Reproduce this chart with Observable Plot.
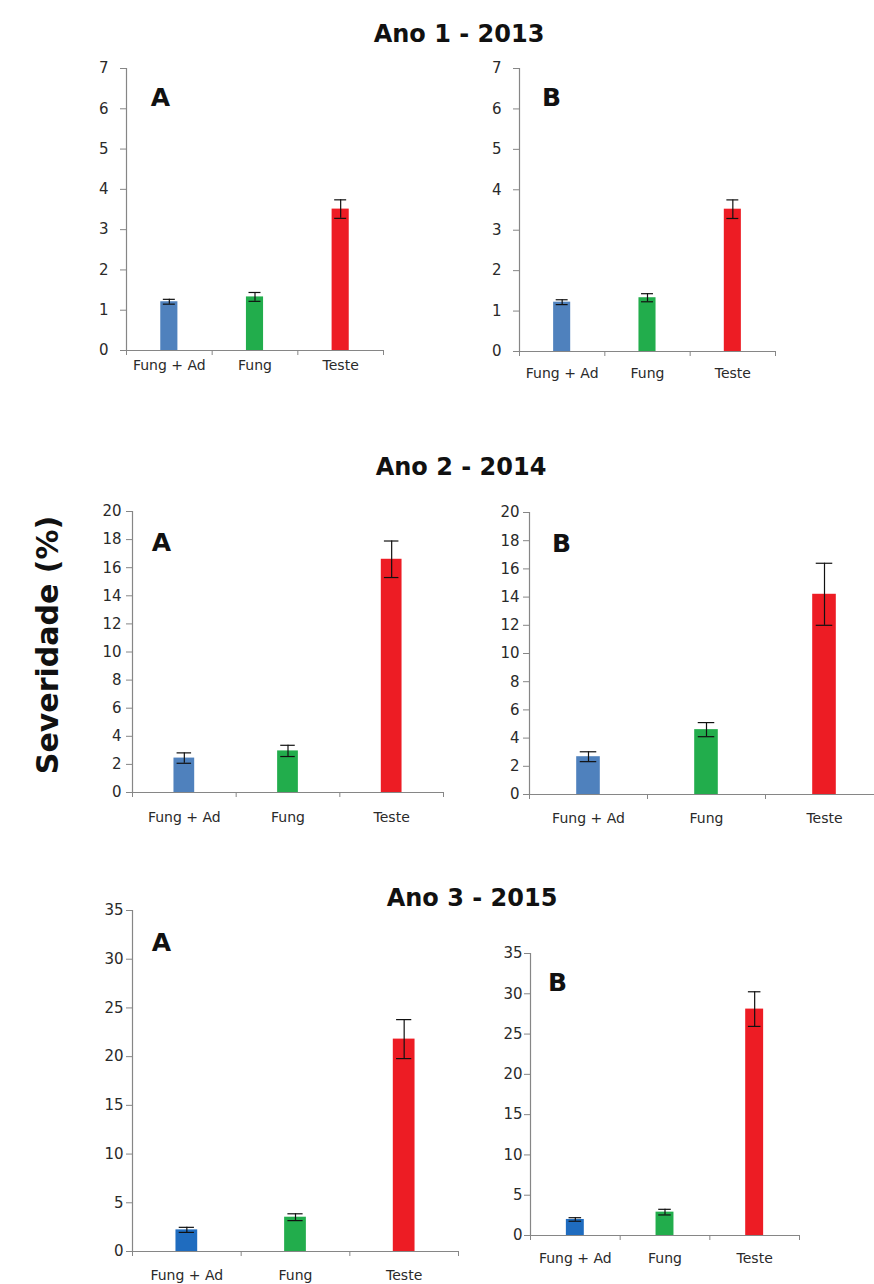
<!DOCTYPE html>
<html><head><meta charset="utf-8">
<script src="https://cdn.jsdelivr.net/npm/d3@7"></script>
<script src="https://cdn.jsdelivr.net/npm/@observablehq/plot@0.6"></script>
<style>
body{margin:0;background:#fff;}
#page{position:relative;width:874px;height:1284px;overflow:hidden;background:#fff;font-family:"DejaVu Sans",sans-serif;}
.title{position:absolute;font-weight:bold;font-size:24px;color:#111;transform:translateX(-50%);white-space:nowrap;line-height:1;}
.panel{position:absolute;}
#ylab{position:absolute;left:48px;top:645px;transform:translate(-50%,-50%) rotate(-90deg);font-weight:bold;font-size:30px;white-space:nowrap;color:#111;line-height:1;}
</style></head><body><div id="page"></div>
<script>
// ---- data ----
const categories = ["Fung + Ad", "Fung", "Teste"];
const years = ["Ano 1 - 2013", "Ano 2 - 2014", "Ano 3 - 2015"];
const panelLetters = ["A", "B"];
const yAxisLabel = "Severidade (%)";

const sev2013A = [1.21, 1.33, 3.51];  const err2013A = [0.06, 0.11, 0.23];
const sev2013B = [1.22, 1.33, 3.52];  const err2013B = [0.06, 0.10, 0.23];
const sev2014A = [2.45, 2.96, 16.6];  const err2014A = [0.37, 0.40, 1.3];
const sev2014B = [2.68, 4.60, 14.2];  const err2014B = [0.35, 0.50, 2.2];
const sev2015A = [2.22, 3.52, 21.8];  const err2015A = [0.26, 0.35, 2.0];
const sev2015B = [1.99, 2.90, 28.1];  const err2015B = [0.22, 0.35, 2.15];

const yTicks2013 = [0, 1, 2, 3, 4, 5, 6, 7];
const yTicks2014 = [0, 2, 4, 6, 8, 10, 12, 14, 16, 18, 20];
const yTicks2015 = [0, 5, 10, 15, 20, 25, 30, 35];

const colorsRow12 = ["#4f81bd", "#22ad4c", "#ed1c24"];
const colorsRow3  = ["#1f6cbf", "#22ad4c", "#ed1c24"];

// ---- layout (pixel geometry, not data) ----
const BAR_HALF = 0.1, CAP_HALF = 0.07;
const M = {left: 50, right: 12, top: 12, bottom: 40};
const layout = [
  {vals: sev2013A, errs: err2013A, ticks: yTicks2013, colors: colorsRow12, letter: 0, x0: 126, x1: 383, yTop: 68, yBot: 350, ldx: 34, ldy: 29, tickPad: 12, labPad: 10},
  {vals: sev2013B, errs: err2013B, ticks: yTicks2013, colors: colorsRow12, letter: 1, x0: 519, x1: 775, yTop: 68, yBot: 351, ldx: 32, ldy: 29, tickPad: 12, labPad: 17},
  {vals: sev2014A, errs: err2014A, ticks: yTicks2014, colors: colorsRow12, letter: 0, x0: 132, x1: 443, yTop: 511, yBot: 792, ldx: 29, ldy: 31, tickPad: 5, labPad: 20},
  {vals: sev2014B, errs: err2014B, ticks: yTicks2014, colors: colorsRow12, letter: 1, x0: 529, x1: 883, yTop: 512, yBot: 794, ldx: 32, ldy: 31, tickPad: 4, labPad: 19},
  {vals: sev2015A, errs: err2015A, ticks: yTicks2015, colors: colorsRow3, letter: 0, x0: 132, x1: 458, yTop: 910, yBot: 1251, ldx: 29, ldy: 32, tickPad: 3, labPad: 19},
  {vals: sev2015B, errs: err2015B, ticks: yTicks2015, colors: colorsRow3, letter: 1, x0: 530, x1: 799, yTop: 953, yBot: 1235, ldx: 27, ldy: 29, tickPad: 2, labPad: 18}
];
const titlePos = [{x: 459, y: 22}, {x: 461, y: 455}, {x: 472, y: 886}];

const page = document.getElementById("page");

years.forEach((t, k) => {
  const d = document.createElement("div");
  d.className = "title";
  d.textContent = t;
  d.style.left = titlePos[k].x + "px";
  d.style.top = titlePos[k].y + "px";
  page.appendChild(d);
});

const yl = document.createElement("div");
yl.id = "ylab";
yl.textContent = yAxisLabel;
page.appendChild(yl);

const axisGray = "#868686";
const textCol = "#2a2a2a";

layout.forEach(p => {
  const width = p.x1 - p.x0 + M.left + M.right;
  const height = p.yBot - p.yTop + M.top + M.bottom;
  const data = categories.map((c, i) => ({cat: c, i, v: p.vals[i], e: p.errs[i]}));
  const yMax = p.ticks[p.ticks.length - 1];
  const chart = Plot.plot({
    width, height,
    marginLeft: M.left, marginRight: M.right, marginTop: M.top, marginBottom: M.bottom,
    style: {fontFamily: "DejaVu Sans", fontSize: "14px", background: "transparent", overflow: "visible", maxWidth: "none"},
    x: {domain: [0, categories.length], axis: null},
    y: {domain: [0, yMax], axis: null},
    color: {domain: categories, range: p.colors},
    marks: [
      Plot.rectY(data, {x1: d => d.i + 0.5 - BAR_HALF, x2: d => d.i + 0.5 + BAR_HALF, y1: 0, y2: "v", fill: "cat"}),
      Plot.ruleX(data, {x: d => d.i + 0.5, y1: d => d.v - d.e, y2: d => d.v + d.e, stroke: "#111", strokeWidth: 1.2}),
      Plot.ruleY(data, {y: d => d.v + d.e, x1: d => d.i + 0.5 - CAP_HALF, x2: d => d.i + 0.5 + CAP_HALF, stroke: "#111", strokeWidth: 1.2}),
      Plot.ruleY(data, {y: d => d.v - d.e, x1: d => d.i + 0.5 - CAP_HALF, x2: d => d.i + 0.5 + CAP_HALF, stroke: "#111", strokeWidth: 1.2}),
      Plot.ruleY([0], {stroke: axisGray, strokeWidth: 1.2}),
      Plot.ruleX([0], {stroke: axisGray, strokeWidth: 1.2}),
      Plot.axisY({ticks: p.ticks, tickSize: 6, tickPadding: p.tickPad, stroke: axisGray, fill: textCol, fontSize: 15, label: null, tickFormat: d => String(d)}),
      Plot.axisX({ticks: d3.range(categories.length + 1), tickSize: 5, tickFormat: () => "", stroke: axisGray, label: null}),
      Plot.axisX({ticks: categories.map((c, i) => i + 0.5), tickSize: 0, tickPadding: p.labPad, tickFormat: x => categories[Math.floor(x)], fill: textCol, label: null}),
      Plot.text([panelLetters[p.letter]], {frameAnchor: "top-left", dx: p.ldx, dy: p.ldy, fontSize: 25, fontWeight: "bold", fill: "#111", textAnchor: "middle", lineAnchor: "middle"})
    ]
  });
  const div = document.createElement("div");
  div.className = "panel";
  div.style.left = (p.x0 - M.left) + "px";
  div.style.top = (p.yTop - M.top) + "px";
  div.style.width = width + "px";
  div.appendChild(chart);
  page.appendChild(div);
});
</script>
</body></html>
